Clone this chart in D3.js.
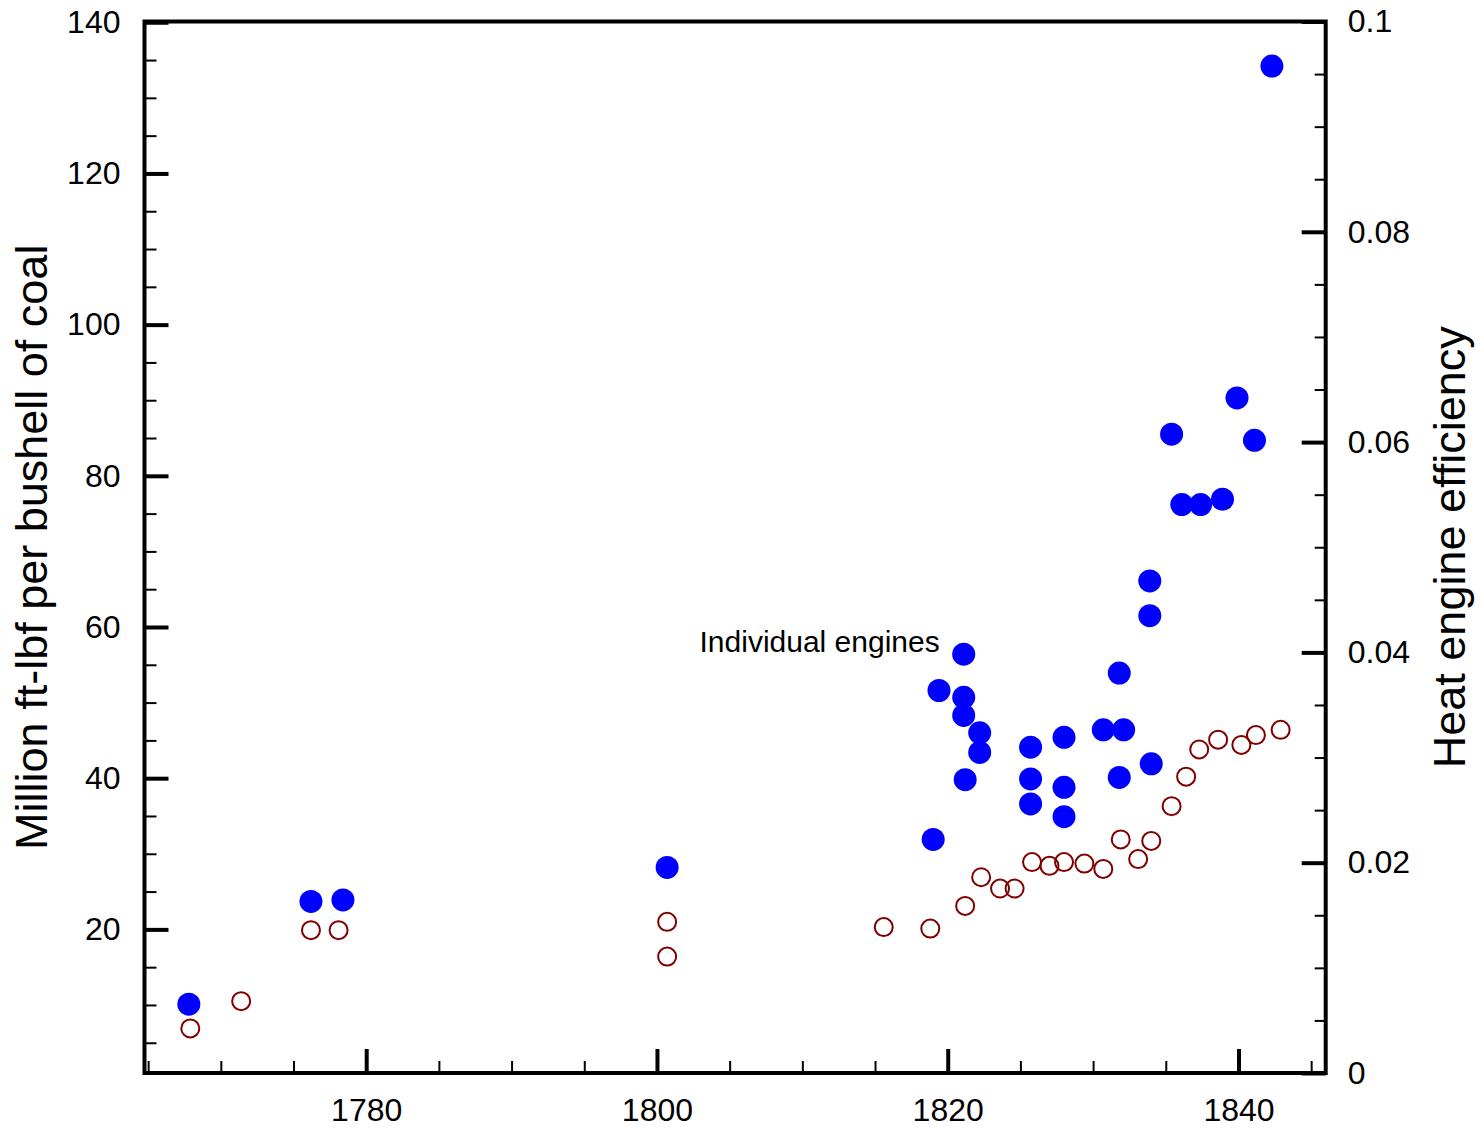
<!DOCTYPE html>
<html>
<head>
<meta charset="utf-8">
<script src="https://cdn.jsdelivr.net/npm/d3@7"></script>
<style>
  body { margin: 0; background: #fff; }
  svg { display: block; }
  text { font-family: "Liberation Sans", Arial, Helvetica, sans-serif; fill: #000; }
</style>
</head>
<body>
<svg id="chart" width="1483" height="1129"></svg>
<script>
// Duty of individual steam engines (million ft-lbf per bushel of coal)
const engineYears = [1767.8, 1776.2, 1778.4, 1800.7, 1819.0, 1819.4, 1821.1, 1821.1, 1821.1, 1822.2,
                     1822.2, 1821.2, 1825.7, 1825.7, 1825.7, 1828.0, 1828.0, 1828.0, 1830.7, 1832.1,
                     1831.8, 1831.8, 1834.0, 1833.9, 1833.9, 1835.4, 1836.1, 1837.4, 1838.9, 1839.9,
                     1841.1, 1842.3];
const engineDuty = [10.1, 23.7, 23.9, 28.2, 31.9, 51.6, 56.4, 50.7, 48.3, 46.0,
                    43.4, 39.8, 44.1, 39.9, 36.6, 45.4, 38.8, 34.9, 46.4, 46.4,
                    53.9, 40.1, 41.9, 66.1, 61.5, 85.5, 76.2, 76.2, 76.9, 90.3,
                    84.7, 134.2];

// Average duty figures
const averageYears = [1767.9, 1771.4, 1776.2, 1778.1, 1800.7, 1800.7, 1815.6, 1818.8, 1821.2, 1822.3,
                      1823.6, 1824.6, 1825.8, 1827.0, 1828.0, 1829.4, 1830.7, 1831.9, 1833.1, 1834.0,
                      1835.4, 1836.4, 1837.3, 1838.6, 1840.2, 1841.2, 1842.9];
const averageDuty = [6.9, 10.5, 19.9, 19.9, 21.0, 16.4, 20.3, 20.1, 23.1, 26.9,
                     25.4, 25.4, 28.9, 28.4, 28.9, 28.7, 28.0, 31.9, 29.3, 31.7,
                     36.3, 40.2, 43.8, 45.1, 44.4, 45.7, 46.4];

// Axis ticks and labels
const yearTicks = [1780, 1800, 1820, 1840];
const yearMinorTicks = [1765, 1770, 1775, 1785, 1790, 1795, 1805, 1810, 1815, 1825, 1830, 1835, 1845];
const dutyTicks = [20, 40, 60, 80, 100, 120, 140];
const dutyMinorTicks = d3.range(5, 140, 5).filter(v => v % 20 !== 0);
const efficiencyTicks = [0, 0.02, 0.04, 0.06, 0.08, 0.1];
const efficiencyLabels = ["0", "0.02", "0.04", "0.06", "0.08", "0.1"];
const efficiencyMinorTicks = d3.range(0.005, 0.1, 0.005).filter((v, i) => (i + 1) % 4 !== 0);

const annotation = "Individual engines";
const leftTitle = "Million ft-lbf per bushell of coal";
const rightTitle = "Heat engine efficiency";

const svg = d3.select("#chart");
const L = 144.5, R = 1325.7, T = 21.5, B = 1073;

const x = d3.scaleLinear().domain([1764.75, 1846]).range([L, R]);
const yDuty = d3.scaleLinear().domain([1, 140.1]).range([B, T]);
const yEff = d3.scaleLinear().domain([0, 0.1]).range([B, T]);

function styleAxis(g, width) {
  g.select(".domain").remove();
  g.selectAll(".tick line").attr("stroke", "#000").attr("stroke-width", width);
  g.selectAll(".tick text").attr("font-size", 32).attr("fill", "#000")
    .attr("font-family", '"Liberation Sans", Arial, Helvetica, sans-serif');
}

// Bottom axis: inward ticks
svg.append("g").attr("transform", `translate(0,${B})`)
  .call(d3.axisBottom(x).tickValues(yearMinorTicks).tickSizeInner(-12).tickSizeOuter(0).tickFormat(""))
  .call(g => styleAxis(g, 2));
svg.append("g").attr("transform", `translate(0,${B})`)
  .call(d3.axisBottom(x).tickValues(yearTicks).tickSizeInner(-24).tickSizeOuter(0).tickPadding(25).tickFormat(d3.format("d")))
  .call(g => styleAxis(g, 4));

// Left axis
svg.append("g").attr("transform", `translate(${L},0)`)
  .call(d3.axisLeft(yDuty).tickValues(dutyMinorTicks).tickSizeInner(-12).tickSizeOuter(0).tickFormat(""))
  .call(g => styleAxis(g, 2));
svg.append("g").attr("transform", `translate(${L},0)`)
  .call(d3.axisLeft(yDuty).tickValues(dutyTicks).tickSizeInner(-24).tickSizeOuter(0).tickPadding(24).tickFormat(d3.format("d")))
  .call(g => styleAxis(g, 4));

// Right axis
svg.append("g").attr("transform", `translate(${R},0)`)
  .call(d3.axisRight(yEff).tickValues(efficiencyMinorTicks).tickSizeInner(-11).tickSizeOuter(0).tickFormat(""))
  .call(g => styleAxis(g, 2));
svg.append("g").attr("transform", `translate(${R},0)`)
  .call(d3.axisRight(yEff).tickValues(efficiencyTicks).tickSizeInner(-24).tickSizeOuter(0).tickPadding(22)
    .tickFormat((d, i) => efficiencyLabels[i]))
  .call(g => styleAxis(g, 4));

// Frame
svg.append("rect")
  .attr("x", L).attr("y", T).attr("width", R - L).attr("height", B - T)
  .attr("fill", "none").attr("stroke", "#000").attr("stroke-width", 4);

// Axis titles
svg.append("text")
  .attr("transform", `translate(47,${(T + B) / 2}) rotate(-90)`)
  .attr("text-anchor", "middle").attr("font-size", 45)
  .text(leftTitle);
svg.append("text")
  .attr("transform", `translate(1465,${(T + B) / 2}) rotate(-90)`)
  .attr("text-anchor", "middle").attr("font-size", 45)
  .text(rightTitle);

// Individual engines: filled blue dots
svg.append("g").selectAll("circle")
  .data(engineYears.map((yr, i) => [yr, engineDuty[i]]))
  .join("circle")
  .attr("cx", d => x(d[0])).attr("cy", d => yDuty(d[1]))
  .attr("r", 11.5).attr("fill", "#0000ff");

// Averages: open dark-red circles
svg.append("g").selectAll("circle")
  .data(averageYears.map((yr, i) => [yr, averageDuty[i]]))
  .join("circle")
  .attr("cx", d => x(d[0])).attr("cy", d => yDuty(d[1]))
  .attr("r", 9).attr("fill", "none").attr("stroke", "#800000").attr("stroke-width", 2);

// Label next to the highest early-1820s engine
const labelled = engineDuty.indexOf(56.4);
svg.append("text")
  .attr("x", x(engineYears[labelled]) - 24)
  .attr("y", yDuty(engineDuty[labelled]) - 2)
  .attr("text-anchor", "end").attr("font-size", 30)
  .text(annotation);
</script>
</body>
</html>
